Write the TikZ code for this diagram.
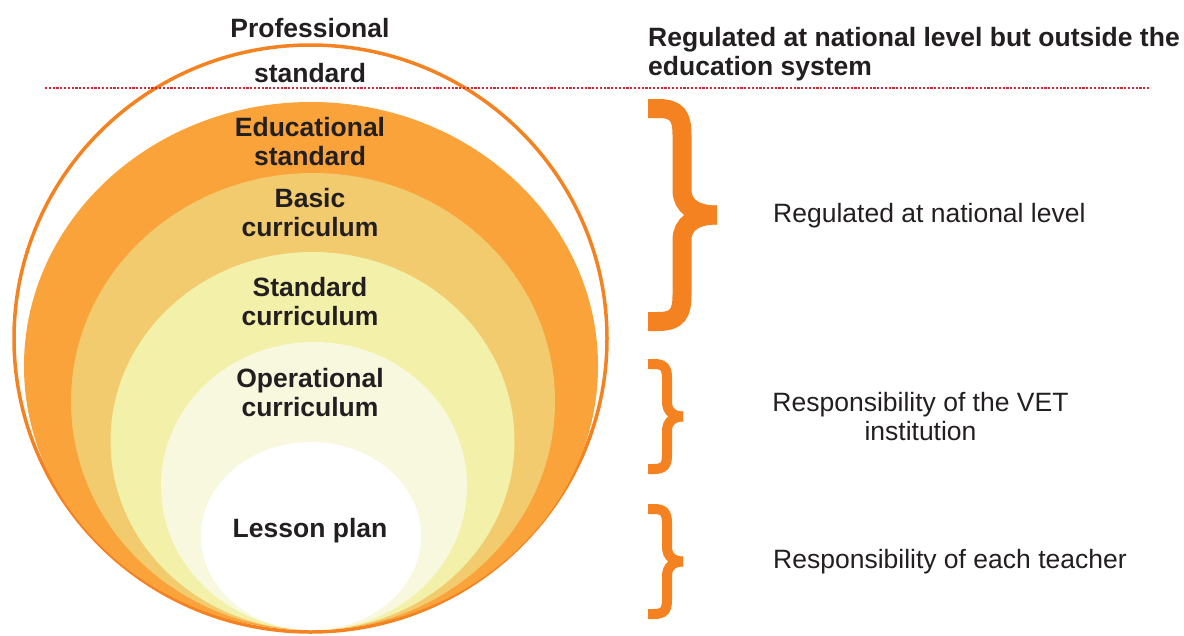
\documentclass[tikz,border=0pt]{standalone}
\usepackage{fontspec}
\setmainfont{Liberation Sans}
\usepackage{xcolor}
\usetikzlibrary{shapes.geometric}
\usetikzlibrary{positioning}
\definecolor{rimorange}{RGB}{245, 130, 32}
\definecolor{eduorange}{RGB}{249, 163, 58}
\definecolor{basictan}{RGB}{242, 203, 110}
\definecolor{stdyellow}{RGB}{243, 241, 169}
\definecolor{oppale}{RGB}{248, 248, 223}
\definecolor{inkgrey}{RGB}{35, 31, 32}
\definecolor{dotred}{RGB}{215, 38, 56}

\begin{document}
\begin{tikzpicture}[x=1pt,y=-1pt,
  layer/.style={ellipse,inner sep=0pt,outer sep=0pt},
  tag/.style={align=center,inner sep=0pt,text=inkgrey,
    font=\fontsize{26.5}{29}\selectfont\bfseries},
  note/.style={align=center,inner sep=0pt,text=inkgrey,
    font=\fontsize{26.5}{29}\selectfont},
  curly/.style={draw=rimorange,line width=#1,line cap=butt}
]
  \useasboundingbox (0,0) rectangle (1184,635);

  % nested levels, all touching at the bottom
  \node[layer,draw=rimorange,line width=3.5pt,fill=white,
    minimum width=593pt,minimum height=587pt] (prof) at (310.5,338.5) {};
  \node[layer,fill=eduorange,minimum width=574pt,minimum height=528pt]
    (edu) at (311,366) {};
  \node[layer,fill=basictan,minimum width=484pt,minimum height=457pt]
    (basic) at (313,401.5) {};
  \node[layer,fill=stdyellow,minimum width=404pt,minimum height=378pt]
    (std) at (312.5,441) {};
  \node[layer,fill=oppale,minimum width=306pt,minimum height=288pt]
    (oper) at (314,486) {};
  \node[layer,fill=white,minimum width=220pt,minimum height=188pt]
    (lesson) at (311,536) {};

  % level names
  \node[tag,anchor=base] (profA) at (310,37) {Professional};
  \node[tag,anchor=base] (profB) at (310,82) {standard};
  \node[tag] (eduT) at (310,142) {Educational\\standard};
  \node[tag] (basicT) at (310,213) {Basic\\curriculum};
  \node[tag] (stdT) at (310,302) {Standard\\curriculum};
  \node[tag] (operT) at (310,393) {Operational\\curriculum};
  \node[tag,anchor=base] (lessonT) at (310,537) {Lesson plan};

  % separator between national level and the education system
  \coordinate (sepL) at (45,88);
  \coordinate (sepR) at (1149,88);
  \draw[dotred,line width=2.4pt,dash pattern=on 2.2pt off 1.6pt] (sepL) -- (sepR);

  \node[tag,align=left,anchor=west] (outside) at (648,54)
    {Regulated at national level but outside the\\education system};

  % braces
  \coordinate (natTip) at (717,215);
  \draw[curly=19pt] (648,108.5) -- (658,108.5)
    .. controls (677,108.5) and (682,116) .. (682,135) -- (682,190)
    .. controls (682,206) and (695,215) .. (natTip);
  \draw[curly=19pt] (648,321.5) -- (658,321.5)
    .. controls (677,321.5) and (682,314) .. (682,295) -- (682,240)
    .. controls (682,224) and (695,215) .. (natTip);

  \coordinate (vetTip) at (683,416.5);
  \draw[curly=10pt] (648,364) -- (654,364)
    .. controls (664,364) and (667,368) .. (667,378) -- (667,402)
    .. controls (667,411) and (673,416.5) .. (vetTip);
  \draw[curly=10pt] (648,469) -- (654,469)
    .. controls (664,469) and (667,465) .. (667,455) -- (667,431)
    .. controls (667,422) and (673,416.5) .. (vetTip);

  \coordinate (teachTip) at (683,561.5);
  \draw[curly=10pt] (648,509) -- (654,509)
    .. controls (664,509) and (667,513) .. (667,523) -- (667,547)
    .. controls (667,556) and (673,561.5) .. (teachTip);
  \draw[curly=10pt] (648,614) -- (654,614)
    .. controls (664,614) and (667,610) .. (667,600) -- (667,576)
    .. controls (667,567) and (673,561.5) .. (teachTip);

  % responsibilities
  \node[note,anchor=base west] (nat) at (773,222) {Regulated at national level};
  \node[note] (vet) at (920.5,416.5) {Responsibility of the VET\\institution};
  \node[note,anchor=base west] (teach) at (773,568) {Responsibility of each teacher};
\end{tikzpicture}
\end{document}
